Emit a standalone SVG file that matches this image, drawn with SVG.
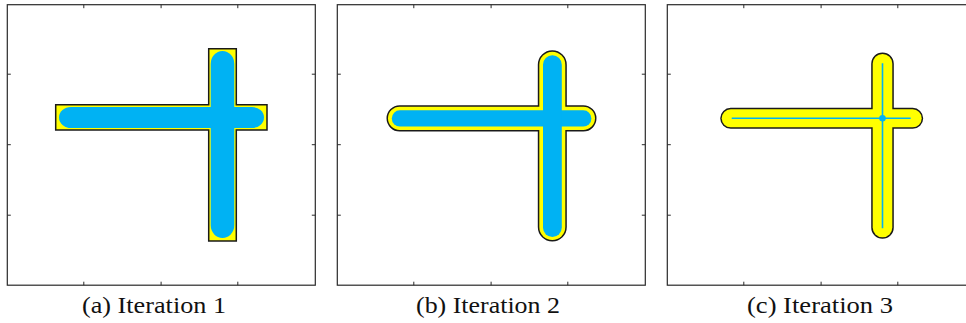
<svg xmlns="http://www.w3.org/2000/svg" width="966" height="323" viewBox="0 0 966 323">
<style>
.frame{fill:none;stroke:#2a2a2a;stroke-width:1.2}
.tick{stroke:#2a2a2a;stroke-width:1}
.yel{fill:#FFFF00}
.blue{fill:#00B2F3}
.edge{fill:none;stroke:#1a1a1a;stroke-width:3}
.cap{font-family:"Liberation Serif","Times New Roman",serif;font-size:23px;fill:#111}
</style>
<defs>
<g id="ticks">
<path class="tick" d="M76.5,0v3.5M153.8,0v3.5M230.5,0v3.5M76.5,280.5v-3.5M153.8,280.5v-3.5M230.5,280.5v-3.5M0,69.5h3.5M0,140h3.5M0,210.5h3.5M308,69.5h-3.5M308,140h-3.5M308,210.5h-3.5"/>
</g>
</defs>
<rect width="966" height="323" fill="#fff"/>

<g id="panel-a">
<rect class="frame" x="7.3" y="4.7" width="308" height="280.5"/>
<use href="#ticks" x="7.3" y="4.7"/>
<path d="M55.7,104.7H208.7V48.7H236.3V104.7H267V130H236.3V241H208.7V130H55.7Z" class="yel" stroke="#1a1a1a" stroke-width="1.5"/>
<rect class="blue" x="59" y="107" width="205" height="21" rx="12" ry="10.5"/>
<rect class="blue" x="210.7" y="51" width="23.6" height="187" rx="11.8" ry="13"/>
<text class="cap" x="154" y="313" text-anchor="middle" textLength="144" lengthAdjust="spacingAndGlyphs">(a) Iteration 1</text>
</g>

<g id="panel-b">
<rect class="frame" x="337.3" y="4.7" width="308" height="280.5"/>
<use href="#ticks" x="337.3" y="4.7"/>
<rect class="edge" x="388" y="106.7" width="207" height="23.3" rx="11.7"/>
<rect class="edge" x="539.3" y="51.7" width="26" height="188.3" rx="13"/>
<rect class="yel" x="388" y="106.7" width="207" height="23.3" rx="11.7"/>
<rect class="yel" x="539.3" y="51.7" width="26" height="188.3" rx="13"/>
<rect class="blue" x="391.8" y="110.3" width="199.6" height="16.2" rx="8.1"/>
<rect class="blue" x="543" y="55.3" width="18.8" height="181.6" rx="9.4"/>
<text class="cap" x="488" y="313" text-anchor="middle" textLength="144" lengthAdjust="spacingAndGlyphs">(b) Iteration 2</text>
</g>

<g id="panel-c">
<rect class="frame" x="667.3" y="4.7" width="308" height="280.5"/>
<use href="#ticks" x="667.3" y="4.7"/>
<rect class="edge" x="721.7" y="109.3" width="200" height="18" rx="9"/>
<rect class="edge" x="872.7" y="54" width="19.6" height="183.3" rx="9.8"/>
<rect class="yel" x="721.7" y="109.3" width="200" height="18" rx="9"/>
<rect class="yel" x="872.7" y="54" width="19.6" height="183.3" rx="9.8"/>
<path d="M731.7,118.3H910.7M882.5,63.3V228.3" stroke="#00B2F3" stroke-width="1.6" fill="none"/>
<circle class="blue" cx="882.5" cy="118.3" r="3.3"/>
<text class="cap" x="820" y="313" text-anchor="middle" textLength="146" lengthAdjust="spacingAndGlyphs">(c) Iteration 3</text>
</g>
</svg>
